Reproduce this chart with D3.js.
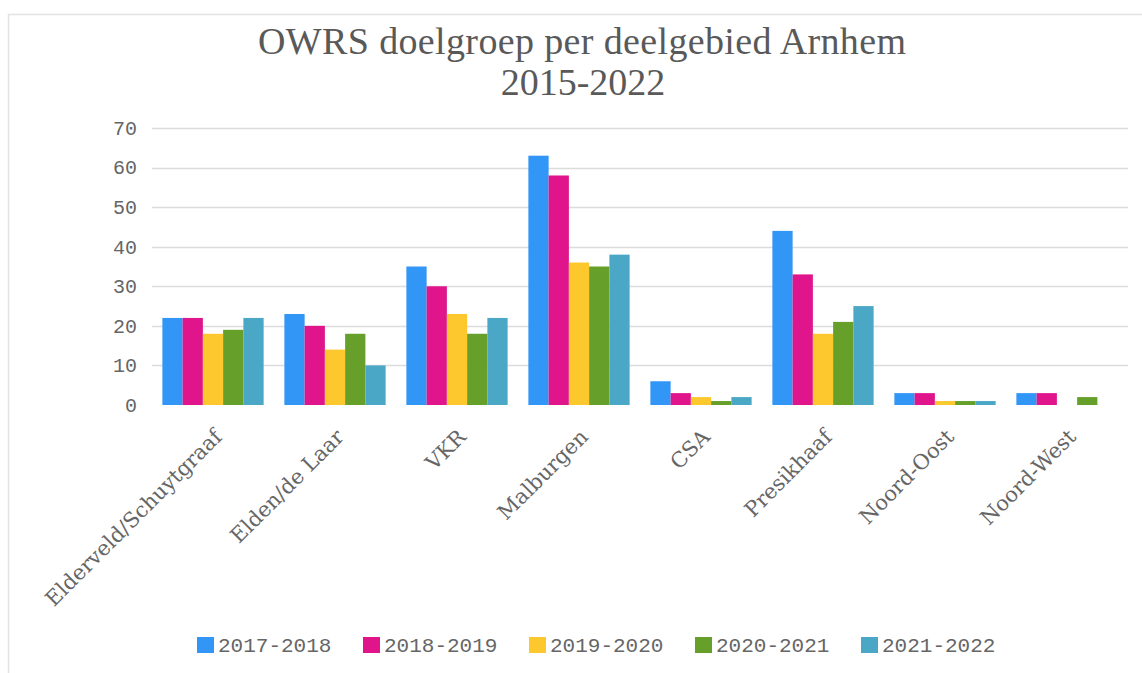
<!DOCTYPE html>
<html>
<head>
<meta charset="utf-8">
<script src="https://cdn.jsdelivr.net/npm/d3@7"></script>
<style>
  body { margin: 0; background: #fff; }
  svg { display: block; }
</style>
</head>
<body>
<svg id="chart"></svg>
<script>
var categories = ["Elderveld/Schuytgraaf", "Elden/de Laar", "VKR", "Malburgen", "CSA", "Presikhaaf", "Noord-Oost", "Noord-West"];
var seasons = ["2017-2018", "2018-2019", "2019-2020", "2020-2021", "2021-2022"];
var v20172018 = [22, 23, 35, 63, 6, 44, 3, 3];
var v20182019 = [22, 20, 30, 58, 3, 33, 3, 3];
var v20192020 = [18, 14, 23, 36, 2, 18, 1, 0];
var v20202021 = [19, 18, 18, 35, 1, 21, 1, 2];
var v20212022 = [22, 10, 22, 38, 2, 25, 1, 0];
var yTicks = [0, 10, 20, 30, 40, 50, 60, 70];
var colors = ["#3196f6", "#e0148b", "#fdc72e", "#66a02a", "#4aa8c6"];

var seriesValues = [v20172018, v20182019, v20192020, v20202021, v20212022];

var width = 1142, height = 673;
var svg = d3.select("#chart").attr("width", width).attr("height", height);

// frame lines (top and left)
svg.append("line").attr("x1", 8).attr("x2", width).attr("y1", 14.5).attr("y2", 14.5)
  .style("stroke", "#e2e2e2").style("stroke-width", 1.5);
svg.append("line").attr("x1", 8.5).attr("x2", 8.5).attr("y1", 14).attr("y2", height)
  .style("stroke", "#e2e2e2").style("stroke-width", 1.5);

// title
var title = svg.append("text").attr("text-anchor", "middle")
  .style("font-family", "'Liberation Serif', serif").style("font-size", "38px")
  .style("fill", "#595959");
title.append("tspan").attr("x", 582).attr("y", 54).attr("textLength", 648).text("OWRS doelgroep per deelgebied Arnhem");
title.append("tspan").attr("x", 583).attr("y", 95).text("2015-2022");

var x0 = d3.scaleBand().domain(categories).range([152, 1128]).paddingInner(0.17).paddingOuter(0.085);
var x1 = d3.scaleBand().domain(seasons).range([0, x0.bandwidth()]);
var y = d3.scaleLinear().domain([0, 70]).range([405, 128]);

// gridlines
svg.append("g").selectAll("line").data(yTicks.filter(function(t) { return t > 0; })).enter().append("line")
  .attr("x1", 152).attr("x2", 1128)
  .attr("y1", function(d) { return Math.round(y(d)) + 0.5; })
  .attr("y2", function(d) { return Math.round(y(d)) + 0.5; })
  .style("stroke", "#dcdcdc").style("stroke-width", 1.6);

// y axis labels
var yAxis = svg.append("g").attr("transform", "translate(140,0)")
  .call(d3.axisLeft(y).tickValues(yTicks).tickSize(0).tickPadding(3));
yAxis.select(".domain").remove();
yAxis.selectAll("text").style("font-family", "'Liberation Mono', monospace").style("font-size", "20px")
  .style("fill", "#666");

// bars
var groups = svg.append("g").selectAll("g").data(categories).enter().append("g")
  .attr("transform", function(d) { return "translate(" + x0(d) + ",0)"; });
groups.selectAll("rect").data(function(d, i) {
    return seasons.map(function(s, j) { return { s: s, v: seriesValues[j][i], c: colors[j] }; });
  }).enter().append("rect")
  .attr("x", function(d) { return x1(d.s); })
  .attr("width", x1.bandwidth())
  .attr("y", function(d) { return y(d.v); })
  .attr("height", function(d) { return y(0) - y(d.v); })
  .attr("fill", function(d) { return d.c; });

// x axis labels
var xAxis = svg.append("g").attr("transform", "translate(0,405)")
  .call(d3.axisBottom(x0).tickSize(0).tickPadding(0));
xAxis.select(".domain").remove();
xAxis.selectAll("text")
  .style("font-family", "'DejaVu Serif', serif").style("font-size", "21px").style("fill", "#666")
  .attr("text-anchor", "end")
  .attr("dy", "0.35em")
  .attr("transform", "translate(5,28) rotate(-45)");

// legend
var legend = svg.append("g").selectAll("g").data(seasons).enter().append("g")
  .attr("transform", function(d, i) { return "translate(" + (197 + i * 166) + ",637)"; });
legend.append("rect").attr("width", 17).attr("height", 16)
  .attr("fill", function(d, i) { return colors[i]; });
legend.append("text").attr("x", 21).attr("y", 8).attr("dy", "0.35em")
  .style("font-family", "'Liberation Mono', monospace").style("font-size", "21px").style("fill", "#666")
  .text(function(d) { return d; });
</script>
</body>
</html>
